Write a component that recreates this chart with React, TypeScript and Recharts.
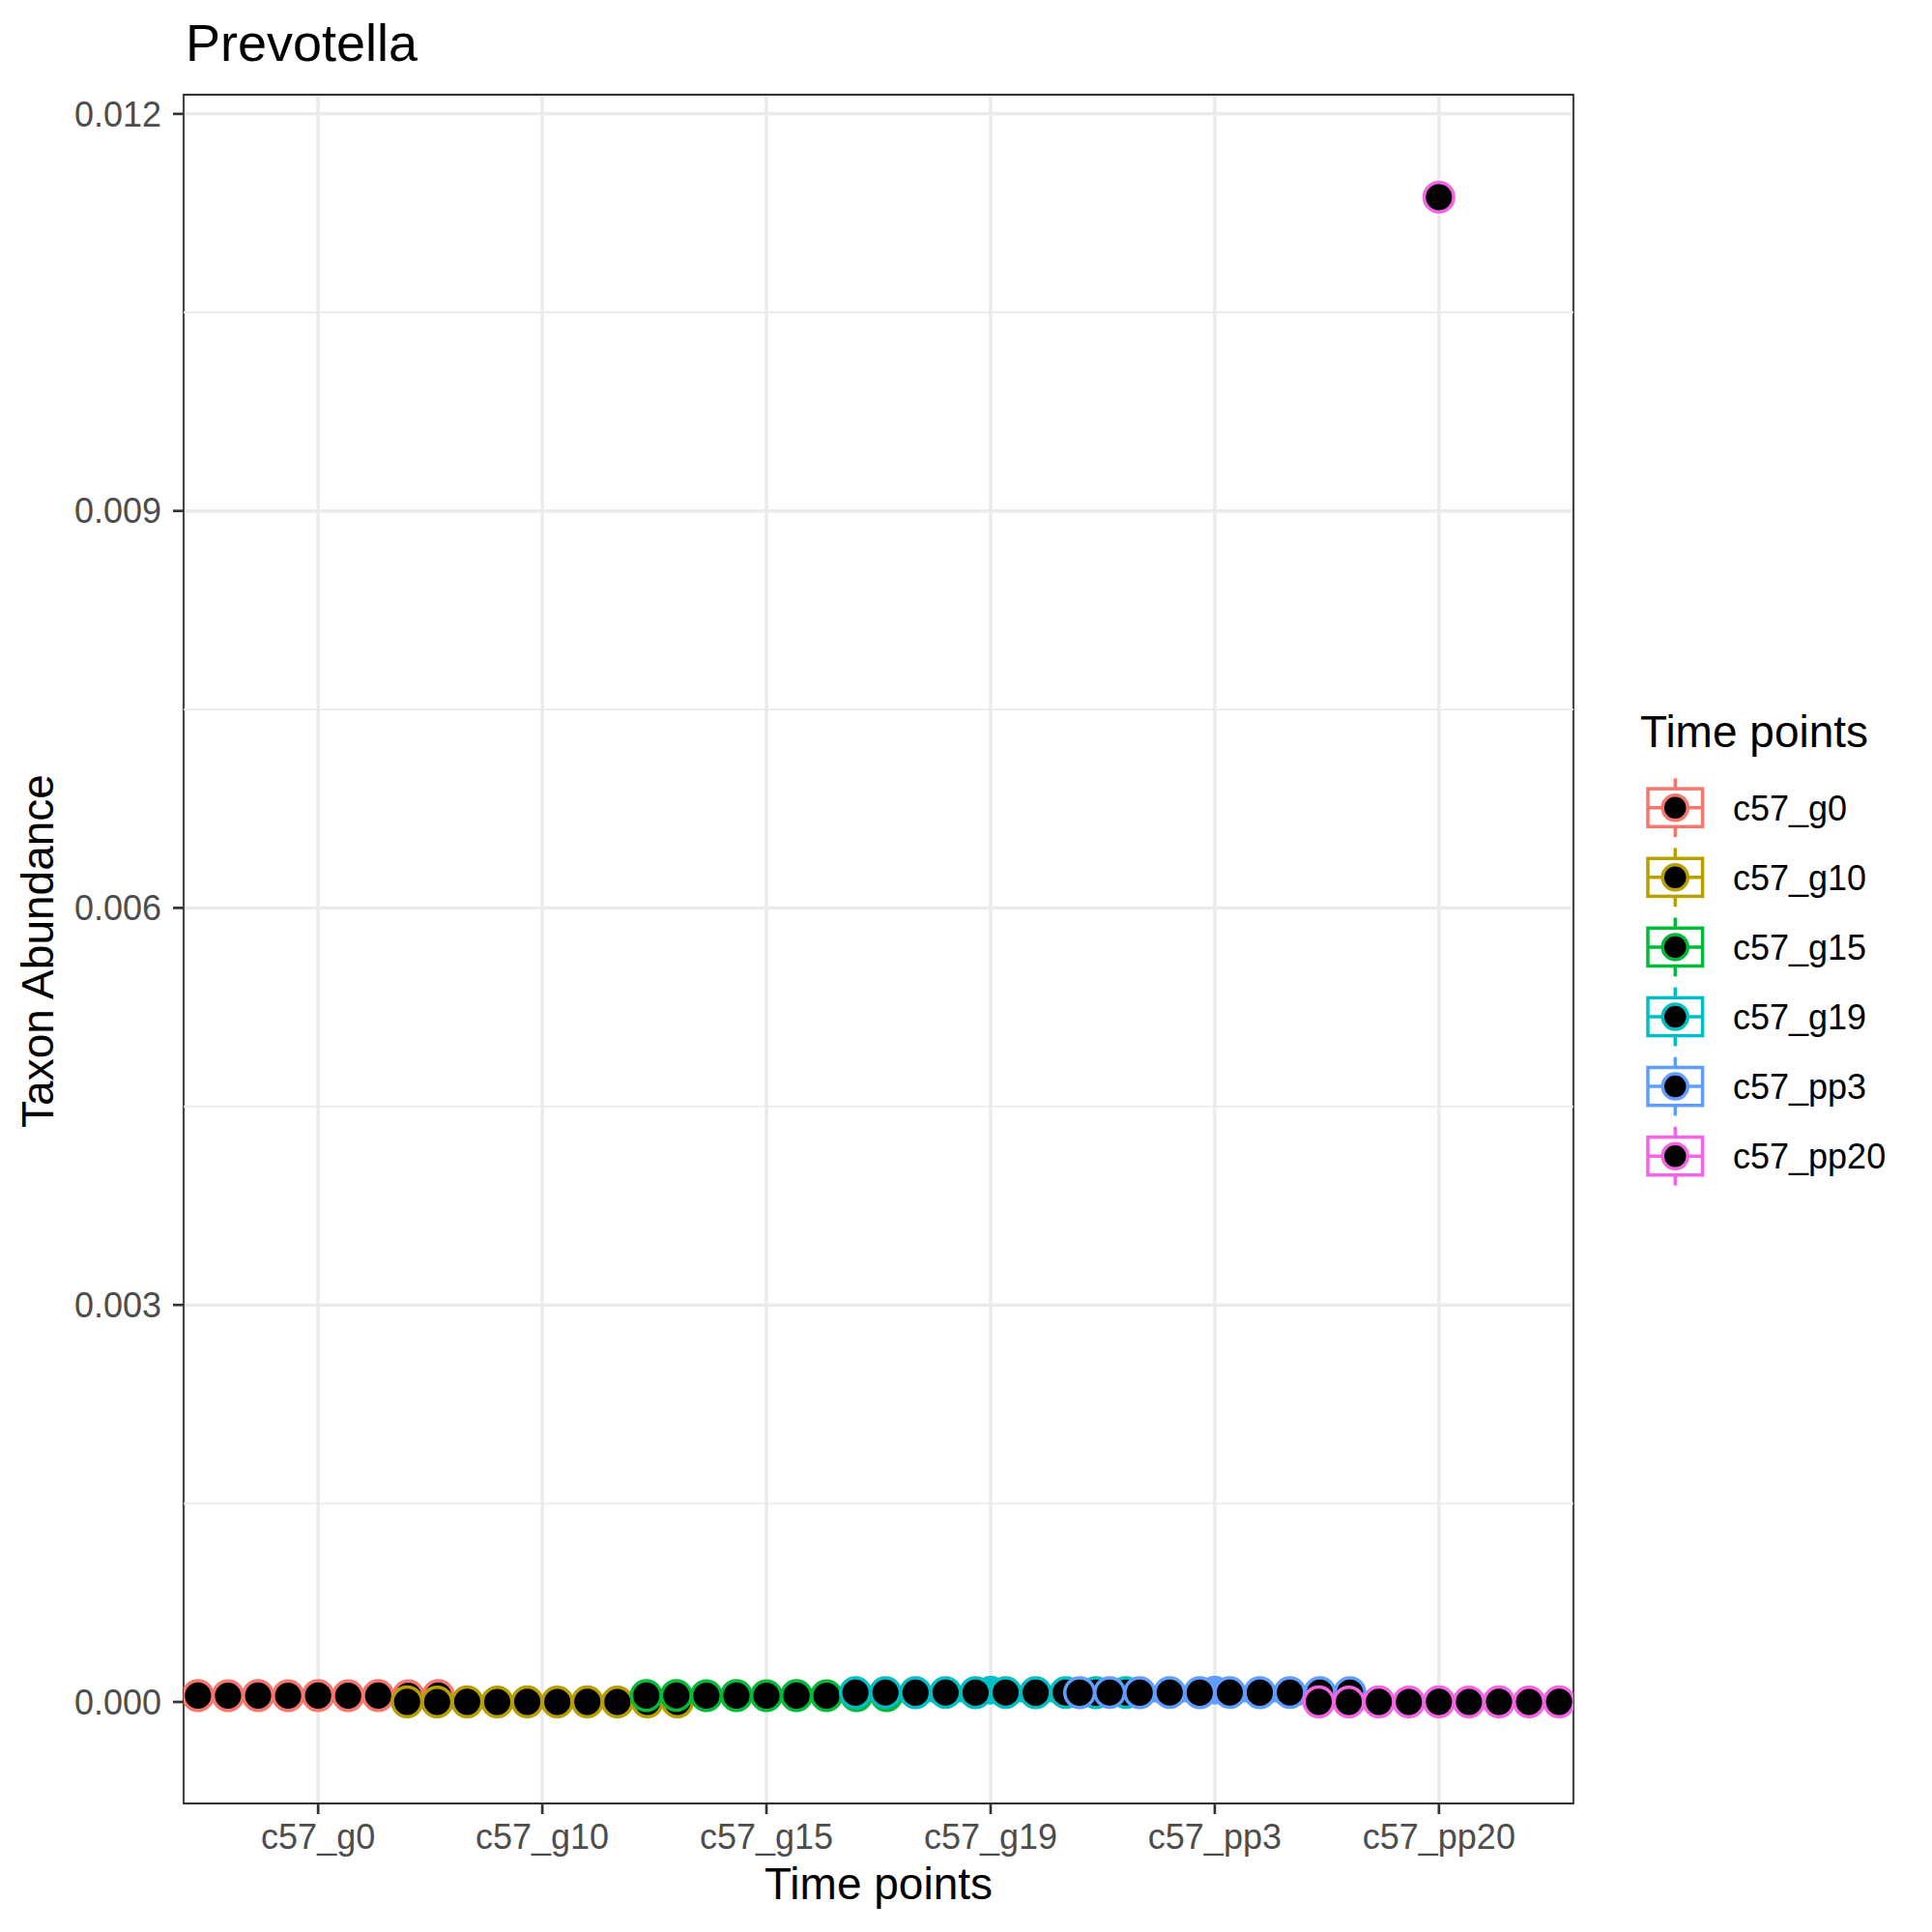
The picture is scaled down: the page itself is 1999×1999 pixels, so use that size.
import React from 'react';
import {
  ScatterChart,
  Scatter,
  XAxis,
  YAxis,
  CartesianGrid,
  ReferenceLine,
  ReferenceArea,
} from 'recharts';

// ---------- data ----------
const categories = ['c57_g0', 'c57_g10', 'c57_g15', 'c57_g19', 'c57_pp3', 'c57_pp20'];
const groupColors = ['#F8766D', '#B79F00', '#00BA38', '#00BFC4', '#619CFF', '#F564E3'];

const g0Values = [0.000048, 0.000047, 0.000048, 0.000047, 0.000048, 0.000047, 0.000048, 0.000047, 0.000048];
const g10Values = [0.000001, 0.0, 0.000001, 0.0, 0.000001, 0.0, 0.000001, 0.0, 0.000001, 0.0];
const g15Values = [0.000048, 0.000049, 0.000047, 0.000048, 0.000047, 0.000048, 0.000047, 0.000048, 0.000047];
const g19Values = [0.00007, 0.000071, 0.00007, 0.000071, 0.00007, 0.000071, 0.00007, 0.000071, 0.00007, 0.000071];
const pp3Values = [0.00007, 0.000071, 0.00007, 0.000071, 0.00007, 0.000071, 0.00007, 0.000071, 0.00007, 0.000071];
const pp20Values = [0.000001, 0.0, 0.000001, 0.0, 0.000001, 0.0, 0.000001, 0.0, 0.000001];
const pp20HighValues = [0.011371];

const groupValues = [g0Values, g10Values, g15Values, g19Values, pp3Values, pp20Values];

// boxplot summaries [q1, median, q3]
const boxQ1 = [0.000047, 0.0, 0.000047, 0.00001, 0.00001, 0.0];
const boxMedian = [0.000047, 0.0, 0.000047, 0.00007, 0.00007, 0.0];
const boxQ3 = [0.000048, 0.000001, 0.000048, 0.00011, 0.00011, 0.000001];
// boxplot outliers (category index, value)
const boxOutlierGroup = [3, 4];
const boxOutlierValues = [0.00009, 0.00009];

const yTicks = [0, 0.003, 0.006, 0.009, 0.012];
const yMinorTicks = [0.0015, 0.0045, 0.0075, 0.0105];

// ---------- layout constants ----------
const X_DOMAIN: [number, number] = [0.4, 6.6];
const Y_DOMAIN: [number, number] = [-0.000767, 0.012145];
const DODGE_STEP = 0.134;
const BOX_HALF = 0.65;
const FONT = '"Liberation Sans", Arial, Helvetica, sans-serif';

const seriesData = groupValues.map((vals, g) => {
  const n = vals.length;
  const center = g + 1;
  return vals.map((v, i) => ({ x: center + (i - (n - 1) / 2) * DODGE_STEP, y: v }));
});
const pp20HighData = pp20HighValues.map((v) => ({ x: 6, y: v }));
const outlierData = boxOutlierValues.map((v, i) => ({ x: boxOutlierGroup[i] + 1, y: v, g: boxOutlierGroup[i] }));

const makePoint = (color: string) => (props: any) => (
  <circle cx={props.cx} cy={props.cy} r={15.3} fill="#000000" stroke={color} strokeWidth={3.5} />
);

const OutlierShape = (props: any) => (
  <circle cx={props.cx} cy={props.cy} r={15} fill={groupColors[props.payload?.g ?? 0]} stroke="none" />
);

export default function App() {
  const clampX = (v: number) => Math.min(Math.max(v, X_DOMAIN[0]), X_DOMAIN[1]);
  return (
    <div style={{ position: 'absolute', left: 0, top: 0, width: 1999, height: 1999, background: '#FFFFFF' }}>
      <ScatterChart
        width={1999}
        height={1999}
        margin={{ top: 98, right: 371, bottom: 0, left: 0 }}
        style={{ position: 'absolute', left: 0, top: 0 }}
      >
        <CartesianGrid stroke="#EBEBEB" strokeWidth={3.5} horizontal vertical />
        {yMinorTicks.map((t) => (
          <ReferenceLine key={'m' + t} y={t} stroke="#EBEBEB" strokeWidth={1.8} />
        ))}
        <XAxis
          type="number"
          dataKey="x"
          domain={X_DOMAIN}
          ticks={[1, 2, 3, 4, 5, 6]}
          allowDataOverflow
          interval={0}
          height={133}
          tickFormatter={(v: number) => categories[Math.round(v) - 1] ?? ''}
          axisLine={false}
          tickSize={11}
          tickMargin={10}
          tickLine={{ stroke: '#333333', strokeWidth: 2.7 }}
          tick={{ fill: '#4D4D4D', fontSize: 36, fontFamily: FONT }}
        />
        <YAxis
          type="number"
          dataKey="y"
          domain={Y_DOMAIN}
          ticks={yTicks}
          allowDataOverflow
          interval={0}
          width={190}
          tickFormatter={(v: number) => v.toFixed(3)}
          axisLine={false}
          tickSize={11}
          tickMargin={12}
          tickLine={{ stroke: '#333333', strokeWidth: 2.7 }}
          tick={{ fill: '#4D4D4D', fontSize: 36, fontFamily: FONT }}
        />
        {categories.map((c, g) => (
          <ReferenceArea
            key={'box' + c}
            x1={clampX(g + 1 - BOX_HALF)}
            x2={clampX(g + 1 + BOX_HALF)}
            y1={boxQ1[g]}
            y2={boxQ3[g]}
            fill="#FFFFFF"
            fillOpacity={1}
            stroke={groupColors[g]}
            strokeWidth={3.5}
            ifOverflow="hidden"
          />
        ))}
        {categories.map((c, g) => (
          <ReferenceLine
            key={'med' + c}
            segment={[
              { x: clampX(g + 1 - BOX_HALF), y: boxMedian[g] },
              { x: clampX(g + 1 + BOX_HALF), y: boxMedian[g] },
            ]}
            stroke={groupColors[g]}
            strokeWidth={7}
            ifOverflow="hidden"
          />
        ))}
        <Scatter data={outlierData} shape={OutlierShape} isAnimationActive={false} />
        {seriesData.map((d, g) => (
          <Scatter
            key={categories[g]}
            name={categories[g]}
            data={d}
            shape={makePoint(groupColors[g])}
            isAnimationActive={false}
          />
        ))}
        <Scatter data={pp20HighData} shape={makePoint(groupColors[5])} isAnimationActive={false} />
        <ReferenceArea
          x1={X_DOMAIN[0]}
          x2={X_DOMAIN[1]}
          y1={Y_DOMAIN[0]}
          y2={Y_DOMAIN[1]}
          fill="none"
          stroke="#333333"
          strokeWidth={1.8}
        />
      </ScatterChart>
      <svg
        width={1999}
        height={1999}
        style={{ position: 'absolute', left: 0, top: 0, pointerEvents: 'none' }}
        fontFamily={FONT}
      >
        <text x={192} y={63} fontSize={54} fill="#000000">Prevotella</text>
        <text x={909} y={1965} fontSize={46} fill="#000000" textAnchor="middle">Time points</text>
        <text x={55} y={984} fontSize={46} fill="#000000" textAnchor="middle" transform="rotate(-90 55 984)">
          Taxon Abundance
        </text>
        <text x={1697} y={773} fontSize={46} fill="#000000">Time points</text>
        {categories.map((c, k) => {
          const cy = 835.7 + k * 72.1;
          const col = groupColors[k];
          return (
            <g key={'leg' + c}>
              <line x1={1733.3} x2={1733.3} y1={cy - 30.4} y2={cy + 30.4} stroke={col} strokeWidth={3.5} />
              <rect x={1705} y={cy - 19.6} width={56.6} height={39.2} fill="#FFFFFF" stroke={col} strokeWidth={3.5} />
              <line x1={1705} x2={1761.6} y1={cy} y2={cy} stroke={col} strokeWidth={3.5} />
              <circle cx={1733.3} cy={cy} r={13} fill="#000000" stroke={col} strokeWidth={3.5} />
              <text x={1793} y={cy + 12.9} fontSize={36} fill="#000000">{c}</text>
            </g>
          );
        })}
      </svg>
    </div>
  );
}
